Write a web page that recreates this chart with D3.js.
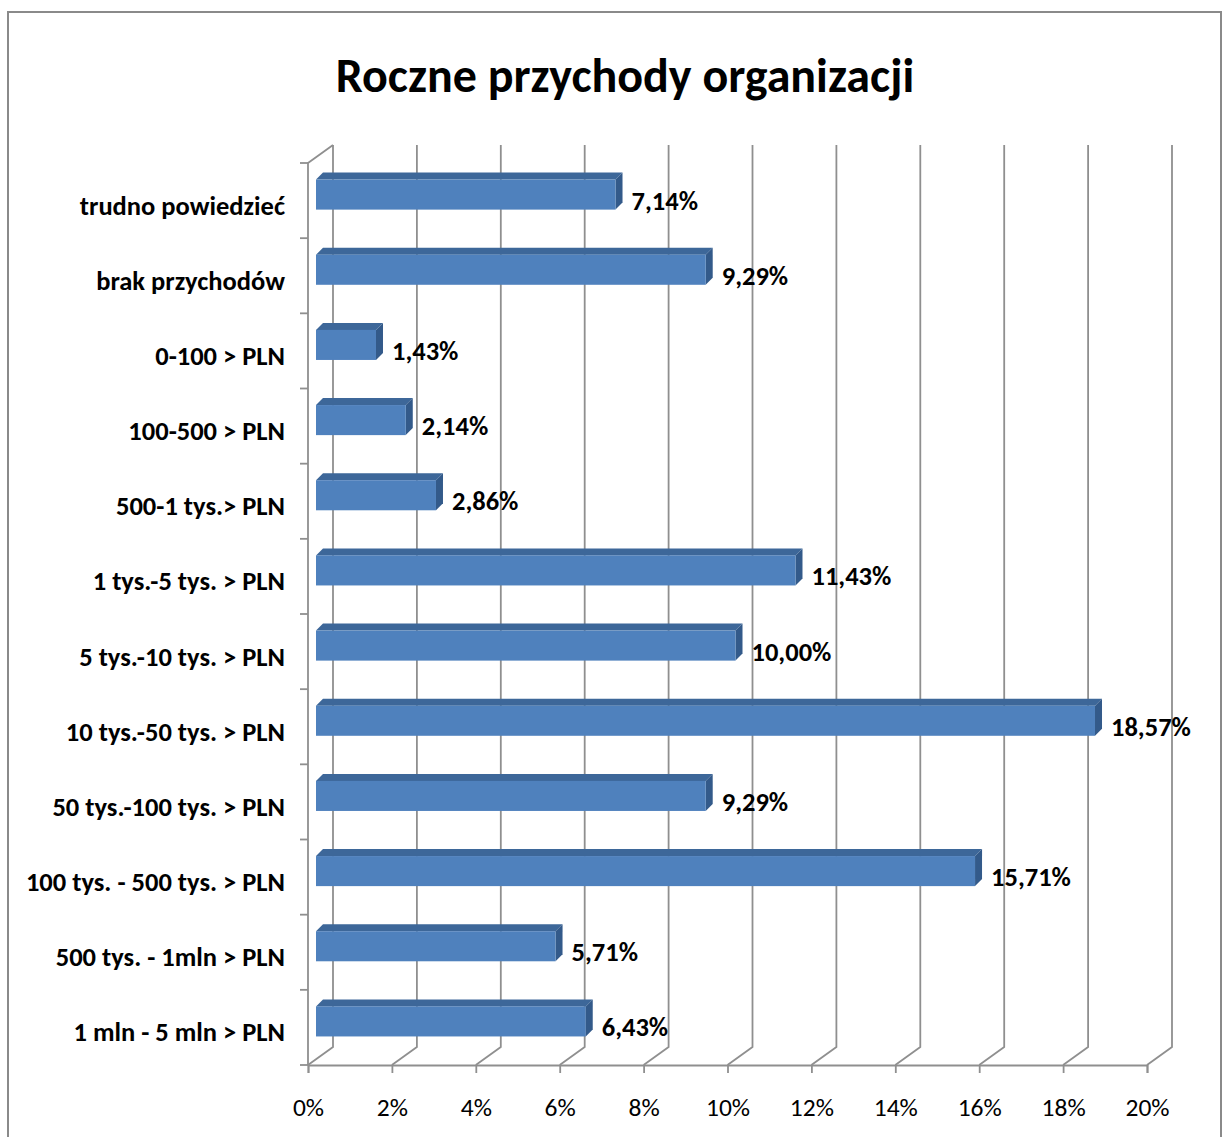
<!DOCTYPE html>
<html lang="pl">
<head>
<meta charset="utf-8">
<title>Roczne przychody organizacji</title>
<script src="https://cdn.jsdelivr.net/npm/d3@7"></script>
<style>
  body { margin:0; background:#fff; }
  text { font-family: Carlito, Calibri, Lato, sans-serif; }
</style>
</head>
<body>
<div id="main"></div>
<script>
// data, top row first
var categories = ['trudno powiedzieć','brak przychodów','0-100 > PLN','100-500 > PLN','500-1 tys.>  PLN',
  '1 tys.-5 tys. > PLN','5 tys.-10 tys. > PLN','10 tys.-50 tys. > PLN','50 tys.-100 tys. > PLN',
  '100 tys. - 500 tys. > PLN','500 tys. - 1mln > PLN','1 mln - 5 mln > PLN']
var values = [7.14, 9.29, 1.43, 2.14, 2.86, 11.43, 10.00, 18.57, 9.29, 15.71, 5.71, 6.43]
var tickValues = [0,2,4,6,8,10,12,14,16,18,20]

var width = 1224, height = 1137
var svg = d3.select("#main").append("svg").attr("width",width).attr("height",height)

// outer frame
svg.append("rect").attr("x",8).attr("y",12).attr("width",1213).attr("height",1140)
  .attr("fill","none").attr("stroke","#8a8a8a").attr("stroke-width",2)

svg.append("text").attr("x",625).attr("y",92).attr("text-anchor","middle")
  .style("font-size","48px").style("font-weight","bold").text("Roczne przychody organizacji")

// front plane scales, depth = offset to the back wall
var x = d3.scaleLinear().domain([0,20]).range([308,1147])
var y = d3.scaleBand().domain(categories).range([163,1065]).paddingInner(0.6).paddingOuter(0.3)
var depth = {dx:25, dy:-18}
var barOff = {dx:8, dy:-6}, barDepth = {dx:7, dy:-7}
var grid = "#8f8f8f"

// back wall gridlines + floor diagonals
var g = svg.append("g").attr("stroke",grid).attr("stroke-width",1.8).attr("fill","none")
tickValues.forEach(function(t){
  var xf = x(t), xb = x(t)+depth.dx
  g.append("path").attr("d","M"+xf+",1065L"+xb+","+(1065+depth.dy)+"L"+xb+","+(163+depth.dy))
})
// left wall
g.append("path").attr("d","M308,1065L308,163L"+(308+depth.dx)+","+(163+depth.dy))
d3.range(categories.length+1).forEach(function(i){
  var yy = 163 + i*y.step()
  g.append("line").attr("x1",300).attr("x2",308).attr("y1",yy).attr("y2",yy)
})

// bottom axis
var xAxis = d3.axisBottom(x).tickValues(tickValues).tickFormat(function(d){return d+"%"})
  .tickSize(8).tickPadding(25)
var ax = svg.append("g").attr("transform","translate(0,1065)").call(xAxis)
ax.selectAll("path,line").attr("stroke",grid).attr("stroke-width",1.8)
ax.selectAll("text").style("font-size","25.5px").attr("fill","#000")
  .style("font-family","Carlito, Calibri, Lato, sans-serif")

// bars
var bars = svg.selectAll("g.bar").data(values).enter().append("g").attr("class","bar")
bars.each(function(v,i){
  var sel = d3.select(this)
  var x0 = x(0)+barOff.dx, x1 = x(v)+barOff.dx
  var y0 = y(categories[i])+barOff.dy, h = y.bandwidth()
  var dx = barDepth.dx, dy = barDepth.dy
  sel.append("path").attr("fill","#3d6799")
    .attr("d","M"+x0+","+y0+"L"+(x0+dx)+","+(y0+dy)+"L"+(x1+dx)+","+(y0+dy)+"L"+x1+","+y0+"Z")
  sel.append("path").attr("fill","#335a8a")
    .attr("d","M"+x1+","+y0+"L"+(x1+dx)+","+(y0+dy)+"L"+(x1+dx)+","+(y0+h+dy)+"L"+x1+","+(y0+h)+"Z")
  sel.append("rect").attr("x",x0).attr("y",y0).attr("width",x1-x0).attr("height",h).attr("fill","#4f81bd")
  sel.append("text").attr("x",x1+16).attr("y",y0+h)
    .style("font-size","26.5px").style("font-weight","bold")
    .text(d3.format(".2f")(v).replace(".",",")+"%")
})

// category labels
svg.selectAll("text.cat").data(categories).enter().append("text").attr("class","cat")
  .attr("x",285).attr("y",function(d){return y(d)+y.bandwidth()/2+14})
  .attr("text-anchor","end").style("font-size","26.5px").style("font-weight","bold")
  .text(function(d){return d})
</script>
</body>
</html>
